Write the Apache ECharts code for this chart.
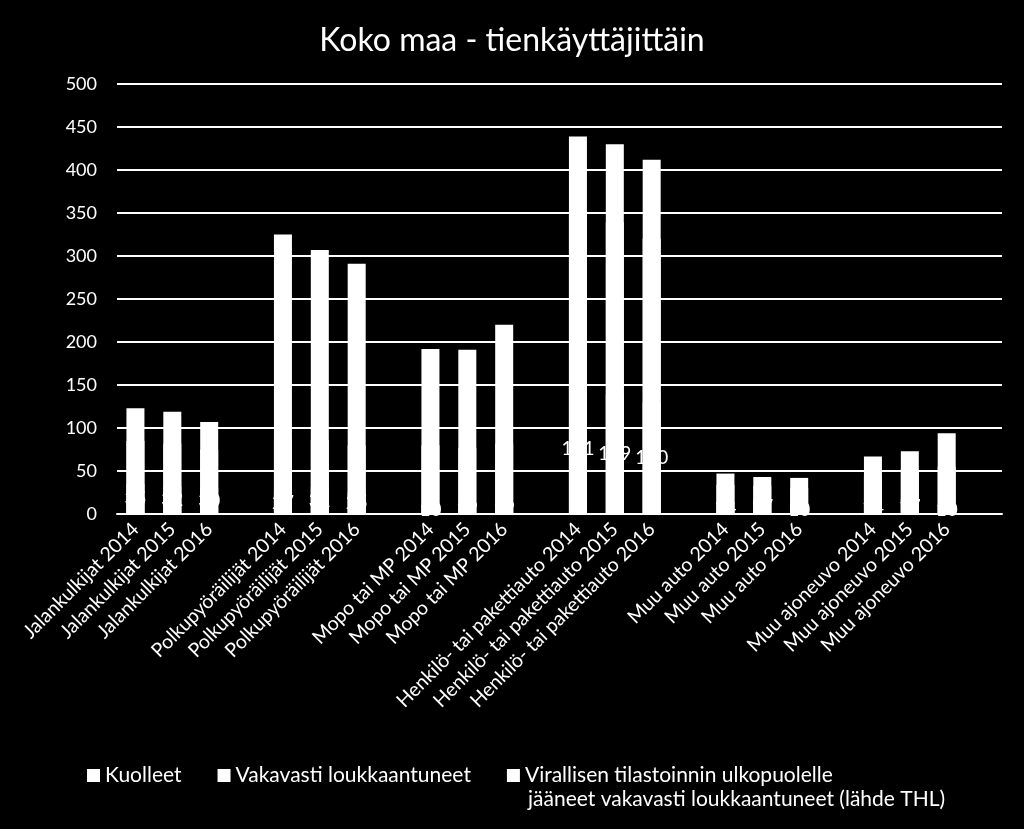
<!DOCTYPE html>
<html>
<head>
<meta charset="utf-8">
<script src="https://cdn.jsdelivr.net/npm/echarts@6/dist/echarts.min.js"></script>
<style>
html,body{margin:0;padding:0;background:#000;}
#c{width:1024px;height:829px;}
</style>
</head>
<body>
<div id="c"></div>
<script>
const categories = [
  'Jalankulkijat 2014','Jalankulkijat 2015','Jalankulkijat 2016','',
  'Polkupyöräilijät 2014','Polkupyöräilijät 2015','Polkupyöräilijät 2016',' ',
  'Mopo tai MP 2014','Mopo tai MP 2015','Mopo tai MP 2016','  ',
  'Henkilö- tai pakettiauto 2014','Henkilö- tai pakettiauto 2015','Henkilö- tai pakettiauto 2016','   ',
  'Muu auto 2014','Muu auto 2015','Muu auto 2016','    ',
  'Muu ajoneuvo 2014','Muu ajoneuvo 2015','Muu ajoneuvo 2016','     '
];
const seriesNames = ['Kuolleet','Vakavasti loukkaantuneet','Virallisen tilastoinnin ulkopuolelle\njääneet vakavasti loukkaantuneet (lähde THL)'];
const kuolleet = [35,32,30,'-', 27,31,25,'-', 10,12,12,'-', 151,139,130,'-', 14,17,10,'-', 14,17,10,'-'];
const vakavasti = [50,50,45,'-', 60,55,55,'-', 70,65,70,'-', 200,200,190,'-', 20,16,20,'-', 30,35,45,'-'];
const thl = [38,37,32,'-', 238,221,211,'-', 112,114,138,'-', 88,91,92,'-', 13,10,12,'-', 23,21,39,'-'];
const yTicks = {min:0, max:500, interval:50};

// Stacked totals (each layer drawn from the axis base so white segments join without seams)
const add = (a, b) => a.map((v, i) => v === '-' ? '-' : v + b[i]);
const cum1 = kuolleet;
const cum2 = add(kuolleet, vakavasti);
const cum3 = add(cum2, thl);

const FONT = 'Lato';
const chart = echarts.init(document.getElementById('c'));
const mk = (name, data, z, withLabel, rawVals) => ({
  name, type:'bar', data, z,
  barWidth: 18, barGap:'-100%',
  itemStyle:{color:'#ffffff'},
  label: withLabel ? {show:true, position:'inside', color:'#ffffff', fontSize:19, fontFamily:FONT} : {show:false},
  emphasis:{disabled:true}
});
const lines = seriesNames[2].split('\n');
chart.setOption({
  backgroundColor:'#000000',
  animation:false,
  textStyle:{fontFamily:FONT},
  title:{text:'Koko maa - tienkäyttäjittäin', left:'center', top:20,
    textStyle:{color:'#ffffff', fontSize:32, fontWeight:'normal', fontFamily:FONT}},
  grid:{left:117, right:22, top:84, bottom:315, containLabel:false},
  legend:{top:760, left:82, itemWidth:13, itemHeight:13, itemGap:36, icon:'rect',
    textStyle:{color:'#ffffff', fontSize:21, fontFamily:FONT},
    formatter: n => n.split('\n')[0],
    data:seriesNames},
  graphic:[{type:'text', left:528, top:789,
    style:{text:lines[1], fill:'#ffffff', font:'21px ' + FONT}}],
  xAxis:{type:'category', data:categories,
    axisLine:{show:true, lineStyle:{color:'#ffffff', width:2}},
    axisTick:{show:false},
    axisLabel:{color:'#ffffff', fontSize:19.5, rotate:45, interval:0, margin:12, fontFamily:FONT}},
  yAxis:{type:'value', min:yTicks.min, max:yTicks.max, interval:yTicks.interval,
    axisLine:{show:false}, axisTick:{show:false},
    splitLine:{lineStyle:{color:'#ffffff', width:2}},
    axisLabel:{color:'#ffffff', fontSize:18, margin:20, fontFamily:FONT}},
  series:[
    mk(seriesNames[0], cum1, 5, true),
    mk(seriesNames[1], cum2, 4, false),
    mk(seriesNames[2], cum3, 3, false)
  ]
});
</script>
</body>
</html>
